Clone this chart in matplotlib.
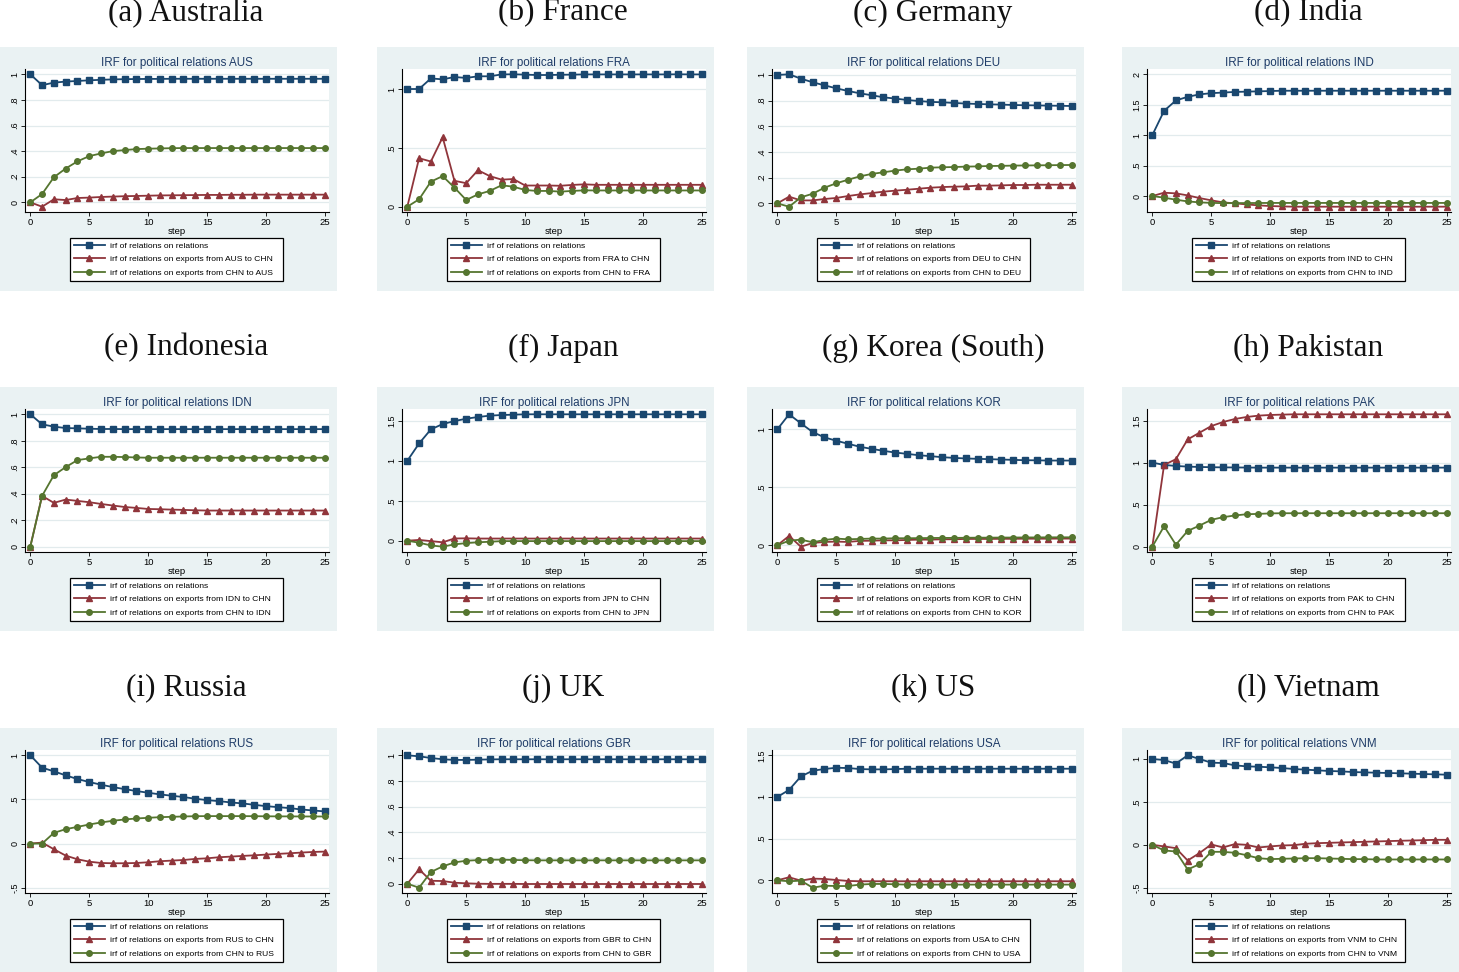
import numpy as np
import matplotlib
matplotlib.use("Agg")
import matplotlib.pyplot as plt
from matplotlib.patches import Rectangle

steps = np.arange(26)

codes = ["AUS", "FRA", "DEU", "IND", "IDN", "JPN", "KOR", "PAK", "RUS", "GBR", "USA", "VNM"]
names = ["(a) Australia", "(b) France", "(c) Germany", "(d) India",
         "(e) Indonesia", "(f) Japan", "(g) Korea (South)", "(h) Pakistan",
         "(i) Russia", "(j) UK", "(k) US", "(l) Vietnam"]
yticks = [[0, .2, .4, .6, .8, 1], [0, .5, 1], [0, .2, .4, .6, .8, 1], [0, .5, 1, 1.5, 2],
          [0, .2, .4, .6, .8, 1], [0, .5, 1, 1.5], [0, .5, 1], [0, .5, 1, 1.5],
          [-.5, 0, .5, 1], [0, .2, .4, .6, .8, 1], [0, .5, 1, 1.5], [-.5, 0, .5, 1]]

# irf of relations on relations / on exports to CHN / on exports from CHN
aus_rel = [1, .915, .935, .943, .948, .953, .957, .960, .962, .963, .964, .964, .965, .965, .965, .965, .965, .965, .965, .965, .965, .965, .965, .965, .965, .965]
aus_exp = [0, -.034, .024, .018, .034, .037, .042, .045, .048, .050, .052, .054, .055, .056, .057, .058, .058, .059, .059, .060, .060, .060, .060, .060, .060, .060]
aus_imp = [0, .065, .196, .264, .320, .361, .382, .400, .408, .416, .419, .421, .423, .424, .424, .424, .424, .424, .424, .424, .424, .424, .424, .424, .424, .424]

fra_rel = [1, 1, 1.09, 1.082, 1.102, 1.094, 1.108, 1.108, 1.124, 1.125, 1.122, 1.119, 1.119, 1.121, 1.122, 1.124, 1.124, 1.124, 1.124, 1.124, 1.124, 1.124, 1.124, 1.125, 1.124, 1.124]
fra_exp = [0, .412, .384, .590, .220, .200, .310, .260, .230, .235, .180, .180, .180, .178, .185, .190, .186, .186, .186, .186, .186, .186, .186, .186, .186, .186]
fra_imp = [0, .063, .213, .260, .162, .057, .105, .134, .182, .170, .142, .134, .134, .128, .134, .139, .138, .138, .138, .138, .138, .138, .138, .138, .138, .138]

deu_rel = [1, 1.005, .971, .943, .919, .896, .875, .857, .842, .826, .816, .805, .797, .790, .787, .782, .777, .774, .771, .769, .766, .764, .763, .761, .760, .758]
deu_exp = [0, .052, .023, .023, .034, .042, .057, .070, .080, .091, .099, .106, .114, .122, .127, .130, .132, .138, .138, .140, .143, .143, .145, .145, .145, .145]
deu_imp = [0, -.026, .047, .075, .122, .156, .184, .210, .229, .242, .255, .265, .270, .278, .281, .283, .286, .288, .291, .292, .294, .295, .296, .297, .298, .299]

ind_rel = [1, 1.40, 1.57, 1.63, 1.67, 1.69, 1.70, 1.71, 1.715, 1.72, 1.725, 1.73, 1.73, 1.73, 1.73, 1.73, 1.73, 1.73, 1.73, 1.73, 1.73, 1.73, 1.73, 1.73, 1.73, 1.73]
ind_exp = [0, .055, .044, .011, -.033, -.070, -.104, -.120, -.137, -.153, -.164, -.170, -.175, -.175, -.175, -.175, -.175, -.175, -.175, -.175, -.175, -.175, -.175, -.175, -.175, -.175]
ind_imp = [0, -.027, -.060, -.088, -.104, -.112, -.117, -.116, -.115, -.114, -.113, -.113, -.113, -.113, -.113, -.113, -.113, -.113, -.113, -.113, -.113, -.113, -.113, -.113, -.113, -.113]

idn_rel = [1, .924, .907, .896, .894, .891, .889, .889, .888, .888, .888, .888, .888, .888, .888, .888, .888, .888, .888, .888, .888, .888, .888, .888, .888, .888]
idn_exp = [0, .384, .331, .356, .346, .336, .323, .311, .300, .293, .285, .283, .280, .278, .275, .273, .273, .273, .273, .273, .273, .273, .273, .273, .273, .273]
idn_imp = [0, .384, .540, .601, .654, .667, .679, .679, .677, .674, .672, .672, .672, .672, .672, .672, .672, .672, .672, .672, .672, .672, .672, .672, .672, .672]

jpn_rel = [1, 1.217, 1.393, 1.460, 1.497, 1.527, 1.548, 1.565, 1.573, 1.577, 1.582, 1.582, 1.582, 1.582, 1.582, 1.582, 1.582, 1.582, 1.582, 1.582, 1.582, 1.582, 1.582, 1.582, 1.582, 1.582]
jpn_exp = [0, .010, -.005, -.020, .028, .030, .027, .027, .027, .027, .027, .027, .027, .027, .027, .027, .027, .027, .027, .027, .027, .027, .027, .027, .027, .027]
jpn_imp = [0, -.025, -.059, -.075, -.046, -.030, -.020, -.013, -.005, -.005, -.005, -.005, -.005, -.005, -.005, -.005, -.005, -.005, -.005, -.005, -.005, -.005, -.005, -.005, -.005, -.005]

kor_rel = [1, 1.13, 1.052, .977, .931, .902, .876, .850, .832, .815, .800, .789, .777, .769, .760, .754, .749, .746, .743, .740, .737, .734, .733, .731, .731, .731]
kor_exp = [0, .081, -.012, .020, .029, .032, .029, .038, .040, .043, .043, .046, .049, .049, .052, .052, .055, .055, .055, .056, .056, .057, .057, .057, .058, .058]
kor_imp = [0, .040, .049, .026, .046, .058, .052, .055, .058, .058, .061, .061, .062, .063, .064, .064, .065, .066, .066, .067, .067, .068, .068, .069, .069, .069]

pak_rel = [1, .972, .960, .952, .948, .945, .943, .942, .941, .940, .940, .940, .940, .940, .940, .940, .940, .940, .940, .940, .940, .940, .940, .940, .940, .940]
pak_exp = [0, .972, 1.040, 1.275, 1.355, 1.434, 1.482, 1.518, 1.542, 1.558, 1.566, 1.570, 1.574, 1.574, 1.574, 1.574, 1.574, 1.574, 1.574, 1.574, 1.574, 1.574, 1.574, 1.574, 1.574, 1.574]
pak_imp = [0, .243, .024, .187, .251, .319, .351, .371, .386, .390, .396, .398, .398, .398, .398, .398, .398, .398, .398, .398, .398, .398, .398, .398, .398, .398]

rus_rel = [1, .860, .818, .773, .731, .697, .667, .640, .617, .595, .576, .557, .542, .527, .508, .492, .481, .466, .455, .439, .424, .413, .402, .386, .375, .364]
rus_exp = [0, .011, -.064, -.136, -.178, -.205, -.220, -.223, -.223, -.220, -.212, -.200, -.193, -.186, -.174, -.167, -.155, -.148, -.140, -.133, -.125, -.117, -.110, -.102, -.095, -.091]
rus_imp = [0, 0, .121, .163, .189, .216, .239, .258, .273, .284, .292, .299, .303, .307, .310, .311, .311, .311, .311, .310, .309, .308, .308, .307, .307, .307]

gbr_rel = [1, .992, .979, .969, .964, .964, .966, .968, .969, .969, .969, .969, .969, .969, .969, .969, .969, .969, .969, .969, .969, .969, .969, .969, .969, .969]
gbr_exp = [0, .112, .023, .021, .008, .003, 0, -.001, -.001, -.001, -.002, -.002, -.002, -.002, -.002, -.002, -.002, -.002, -.002, -.002, -.002, -.002, -.002, -.002, -.002, -.002]
gbr_imp = [0, -.031, .091, .135, .166, .179, .184, .187, .187, .185, .183, .182, .182, .182, .182, .182, .182, .182, .182, .182, .182, .182, .182, .182, .182, .182]

usa_rel = [1, 1.085, 1.246, 1.315, 1.335, 1.351, 1.347, 1.335, 1.331, 1.331, 1.335, 1.339, 1.339, 1.339, 1.339, 1.339, 1.339, 1.339, 1.339, 1.339, 1.339, 1.339, 1.339, 1.339, 1.339, 1.339]
usa_exp = [0, .036, -.004, .020, .016, .004, -.008, -.012, -.012, -.012, -.012, -.012, -.012, -.012, -.012, -.012, -.012, -.012, -.012, -.012, -.012, -.012, -.012, -.012, -.012, -.012]
usa_imp = [0, -.012, -.004, -.089, -.065, -.069, -.069, -.052, -.044, -.044, -.048, -.052, -.052, -.052, -.052, -.052, -.052, -.052, -.052, -.052, -.052, -.052, -.052, -.052, -.052, -.052]

vnm_rel = [1, .988, .946, 1.043, 1.0, .957, .953, .926, .914, .910, .903, .895, .883, .876, .868, .860, .856, .848, .844, .840, .837, .833, .829, .825, .821, .817]
vnm_exp = [0, -.019, -.039, -.183, -.097, .004, -.031, .008, 0, -.031, -.019, -.008, -.004, .012, .019, .023, .027, .031, .035, .039, .043, .047, .050, .054, .058, .058]
vnm_imp = [0, -.066, -.078, -.288, -.226, -.082, -.082, -.093, -.121, -.156, -.167, -.163, -.160, -.156, -.156, -.160, -.163, -.167, -.167, -.171, -.171, -.171, -.171, -.171, -.171, -.171]

series = [(aus_rel, aus_exp, aus_imp), (fra_rel, fra_exp, fra_imp), (deu_rel, deu_exp, deu_imp),
          (ind_rel, ind_exp, ind_imp), (idn_rel, idn_exp, idn_imp), (jpn_rel, jpn_exp, jpn_imp),
          (kor_rel, kor_exp, kor_imp), (pak_rel, pak_exp, pak_imp), (rus_rel, rus_exp, rus_imp),
          (gbr_rel, gbr_exp, gbr_imp), (usa_rel, usa_exp, usa_imp), (vnm_rel, vnm_exp, vnm_imp)]

W, H = 1459, 972
navy, maroon, green = "#1a476f", "#90353b", "#55752f"
bg = "#eaf2f3"
sans = ["Liberation Sans", "DejaVu Sans"]


def stata_fmt(v):
    s = "%g" % v
    if s.startswith("0."):
        s = s[1:]
    elif s.startswith("-0."):
        s = "-" + s[2:]
    return s


def fig_rect(left, top, w, h):
    return [left / W, 1 - (top + h) / H, w / W, h / H]


fig = plt.figure(figsize=(W / 100, H / 100), dpi=100)
fig.patch.set_facecolor("white")

col_left = [0, 377, 747, 1122]
row_top = [47, 387, 728]
title_y = [13, 348, 688]
pw, ph = 337, 244

for i, code in enumerate(codes):
    r, c = divmod(i, 4)
    pl, pt = col_left[c], row_top[r]
    fig.add_artist(Rectangle((pl / W, 1 - (pt + ph) / H), pw / W, ph / H,
                             transform=fig.transFigure, facecolor=bg, edgecolor="none", zorder=-1))
    fig.text((pl + 186) / W, 1 - title_y[r] / H, names[i], family="Liberation Serif",
             fontsize=22.5, ha="center", va="center", color="#111111")

    ax = fig.add_axes(fig_rect(pl + 25, pt + 22, 304, 143))
    rel, exp_, imp = series[i]
    ax.plot(steps, rel, color=navy, lw=1.3, marker="s", ms=4.0, label="irf of relations on relations")
    ax.plot(steps, exp_, color=maroon, lw=1.3, marker="^", ms=4.4,
            label="irf of relations on exports from %s to CHN" % code)
    ax.plot(steps, imp, color=green, lw=1.3, marker="o", ms=4.0,
            label="irf of relations on exports from CHN to %s" % code)

    t = yticks[i]
    lo = min(t[0], min(rel), min(exp_), min(imp))
    hi = max(t[-1], max(rel), max(exp_), max(imp))
    pad = 0.04 * (hi - lo)
    ax.set_ylim(lo - pad, hi + pad)
    ax.set_xlim(-0.45, 25.35)
    ax.set_yticks(t)
    ax.set_yticklabels([stata_fmt(v) for v in t], rotation=90, va="center", family=sans, fontsize=6.5)
    ax.set_xticks([0, 5, 10, 15, 20, 25])
    ax.set_xticklabels(["0", "5", "10", "15", "20", "25"], family=sans, fontsize=6.8)
    ax.tick_params(direction="out", length=3, width=0.6, pad=1)
    ax.yaxis.grid(True, color="#e2ebed", lw=0.9)
    ax.set_axisbelow(True)
    for s in ["top", "right"]:
        ax.spines[s].set_visible(False)
    for s in ["left", "bottom"]:
        ax.spines[s].set_linewidth(0.8)
    ax.set_xlabel("step", family=sans, fontsize=6.8, labelpad=0)
    ax.set_title("IRF for political relations %s" % code, family=sans, fontsize=8.4,
                 color="#1f3c68", pad=2.5)

    lx, ltop, lw_, lh = pl + 70, pt + 191, 213, 42
    leg = ax.legend(loc="upper left", bbox_to_anchor=(lx / W, 1 - (ltop + lh) / H, lw_ / W, lh / H),
                    bbox_transform=fig.transFigure, mode="expand", borderaxespad=0,
                    prop={"family": sans, "size": 6.1}, fancybox=False, framealpha=1,
                    edgecolor="black", handlelength=3.6, handletextpad=0.6,
                    labelspacing=0.62, borderpad=0.5, numpoints=1)
    leg.get_frame().set_linewidth(0.9)

fig.savefig("out.png", dpi=100)
